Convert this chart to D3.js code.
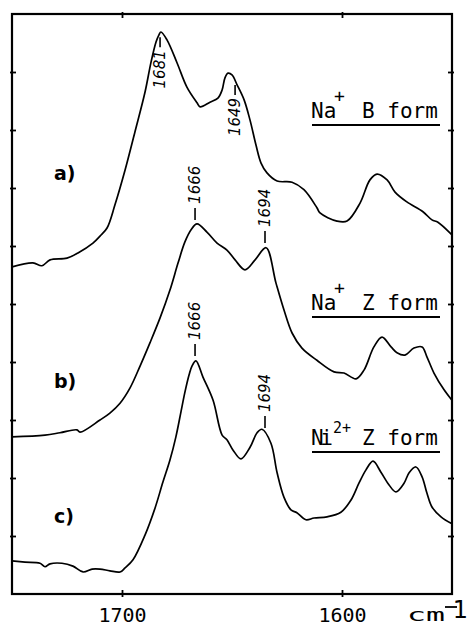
<!DOCTYPE html>
<html>
<head>
<meta charset="utf-8">
<script src="https://cdn.jsdelivr.net/npm/d3@7/dist/d3.min.js"></script>
<style>
  html, body { margin: 0; padding: 0; background: #fff; }
  svg { display: block; }
</style>
</head>
<body>
<svg id="chart" width="469" height="626"></svg>
<script>
// ---------------- DATA ----------------
// Curve a) Na+ B form : wavenumber (cm-1) and absorbance (arbitrary units)
const aWn  = [1750, 1740.5, 1736.4, 1732.7, 1725.0, 1720.0, 1713.2, 1710.0, 1706.8, 1703.2, 1698.6, 1694.1, 1689.5, 1686.8, 1684.5, 1683.2, 1682.3, 1679.5, 1675.0, 1670.5, 1665.9, 1664.5, 1660.0, 1656.4, 1654.5, 1653.2, 1651.8, 1650.0, 1647.7, 1644.5, 1641.8, 1639.1, 1636.8, 1634.1, 1629.5, 1622.7, 1617.3, 1611.4, 1610.0, 1602.3, 1597.7, 1591.8, 1587.3, 1584.1, 1579.5, 1575.9, 1570.5, 1563.2, 1559.1, 1556.4, 1550];
const aVal = [5.64, 5.71, 5.66, 5.76, 5.79, 5.88, 6.05, 6.17, 6.31, 6.71, 7.31, 7.97, 8.66, 9.17, 9.52, 9.64, 9.69, 9.55, 9.16, 8.74, 8.47, 8.40, 8.48, 8.55, 8.69, 8.90, 8.98, 8.95, 8.78, 8.52, 8.17, 7.74, 7.43, 7.26, 7.12, 7.10, 6.97, 6.66, 6.57, 6.43, 6.43, 6.74, 7.14, 7.24, 7.14, 6.93, 6.76, 6.59, 6.45, 6.41, 6.19];

// Curve b) Na+ Z form
const bWn  = [1750, 1735.0, 1728.2, 1720.5, 1719.1, 1710.0, 1705.5, 1700.9, 1696.4, 1691.8, 1687.3, 1682.7, 1678.2, 1674.5, 1671.4, 1668.6, 1665.9, 1661.4, 1656.8, 1652.3, 1648.6, 1644.1, 1639.5, 1634.5, 1630.0, 1626.4, 1622.7, 1618.2, 1611.4, 1603.6, 1599.1, 1593.6, 1590.0, 1585.5, 1581.8, 1577.7, 1575.0, 1571.4, 1567.3, 1563.6, 1561.4, 1558.2, 1553.6, 1550];
const bVal = [2.71, 2.74, 2.78, 2.83, 2.79, 3.00, 3.12, 3.29, 3.55, 3.93, 4.33, 4.76, 5.24, 5.71, 6.07, 6.28, 6.38, 6.24, 6.05, 5.93, 5.76, 5.59, 5.76, 5.97, 5.36, 4.90, 4.50, 4.24, 4.03, 3.83, 3.81, 3.71, 3.86, 4.26, 4.43, 4.26, 4.16, 4.12, 4.24, 4.26, 4.09, 3.81, 3.52, 3.34];

// Curve c) Ni2+ Z form
const cWn  = [1750, 1744.1, 1737.3, 1735.0, 1732.7, 1727.3, 1722.3, 1717.7, 1713.6, 1710.0, 1705.5, 1700.9, 1698.6, 1695.0, 1689.5, 1685.0, 1681.4, 1678.2, 1675.5, 1673.2, 1671.4, 1669.5, 1668.2, 1666.4, 1663.2, 1658.6, 1654.5, 1652.3, 1649.5, 1645.9, 1641.8, 1638.6, 1636.4, 1632.3, 1629.5, 1626.4, 1623.2, 1620.5, 1616.4, 1612.7, 1606.8, 1600.5, 1595.9, 1592.3, 1589.1, 1585.9, 1582.3, 1578.6, 1575.5, 1571.8, 1569.5, 1566.4, 1563.6, 1561.4, 1559.1, 1555.0, 1550];
const cVal = [0.57, 0.55, 0.53, 0.47, 0.52, 0.53, 0.48, 0.38, 0.43, 0.43, 0.40, 0.38, 0.45, 0.59, 1.02, 1.48, 1.93, 2.31, 2.71, 3.14, 3.48, 3.78, 3.93, 4.02, 3.74, 3.34, 2.74, 2.66, 2.48, 2.33, 2.53, 2.78, 2.84, 2.60, 2.09, 1.67, 1.45, 1.40, 1.28, 1.31, 1.33, 1.41, 1.62, 1.91, 2.14, 2.29, 2.10, 1.88, 1.76, 1.91, 2.09, 2.19, 2.02, 1.74, 1.50, 1.33, 1.21];

const curveLetters = ["a)", "b)", "c)"];
const xTickValues = [1700, 1600];
const xTickLabels = ["1700", "1600"];
const yTickValues = [1, 2, 3, 4, 5, 6, 7, 8, 9];

// peak labels: series index, text, wavenumber where label sits
const peakSeries = [0, 0, 1, 1, 2, 2];
const peakTexts  = ["1681", "1649", "1666", "1694", "1666", "1694"];
const peakWn     = [1682.7, 1648.6, 1666.8, 1635.0, 1666.8, 1635.0];
const peakSide   = ["below", "below", "above", "above", "above", "above"];

// ---------------- LAYOUT ----------------
const svg = d3.select("#chart");
const W = 469, H = 626;
const L = 12, R = 452, T = 14, B = 594;

const x = d3.scaleLinear().domain([1750, 1550]).range([L, R]);
const y = d3.scaleLinear().domain([0, 10]).range([B, T]);

svg.append("rect").attr("width", W).attr("height", H).attr("fill", "#fff");

svg.append("defs").append("clipPath").attr("id", "plotclip")
  .append("rect").attr("x", L).attr("y", T).attr("width", R - L).attr("height", B - T);

const series = [
  {wn: aWn, val: aVal},
  {wn: bWn, val: bVal},
  {wn: cWn, val: cVal}
];

const line = d3.line()
  .x(d => x(d[0]))
  .y(d => y(d[1]))
  .curve(d3.curveCatmullRom.alpha(0.5));

const plot = svg.append("g").attr("clip-path", "url(#plotclip)");
series.forEach(s => {
  const pts = s.wn.map((w, i) => [w, s.val[i]]);
  plot.append("path")
    .datum(pts)
    .attr("d", line)
    .attr("fill", "none")
    .attr("stroke", "#000")
    .attr("stroke-width", 1.7)
    .attr("stroke-linejoin", "round");
});

// ---------------- AXES ----------------
const axL = svg.append("g").attr("transform", `translate(${L},0)`)
  .call(d3.axisLeft(y).tickValues(yTickValues).tickSize(-4).tickFormat(""));
axL.select(".domain").remove();
axL.selectAll(".tick line").attr("x1", -2).attr("x2", 4).attr("stroke", "#000").attr("stroke-width", 1.8);

const axR = svg.append("g").attr("transform", `translate(${R},0)`)
  .call(d3.axisRight(y).tickValues(yTickValues).tickSize(-4).tickFormat(""));
axR.select(".domain").remove();
axR.selectAll(".tick line").attr("x1", -4).attr("x2", 2).attr("stroke", "#000").attr("stroke-width", 1.8);

const axT = svg.append("g").attr("transform", `translate(0,${T})`)
  .call(d3.axisTop(x).tickValues(xTickValues).tickSize(-4).tickFormat(""));
axT.select(".domain").remove();
axT.selectAll(".tick line").attr("y1", -2).attr("y2", 4).attr("stroke", "#000").attr("stroke-width", 1.8);

const axB = svg.append("g").attr("transform", `translate(0,${B})`)
  .call(d3.axisBottom(x).tickValues(xTickValues).tickSize(-4)
    .tickFormat((d, i) => xTickLabels[i]));
axB.select(".domain").remove();
axB.selectAll(".tick line").attr("y1", -4).attr("y2", 3).attr("stroke", "#000").attr("stroke-width", 1.8);
axB.selectAll(".tick text")
  .attr("y", 28).attr("dy", 0)
  .attr("fill", "#000")
  .style("font-family", "'DejaVu Sans Mono', monospace")
  .style("font-size", "20px");

// frame
svg.append("rect")
  .attr("x", L).attr("y", T).attr("width", R - L).attr("height", B - T)
  .attr("fill", "none").attr("stroke", "#000").attr("stroke-width", 2.2);

// unit label cm-1
svg.append("text")
  .attr("x", 407).attr("y", 621)
  .attr("textLength", 38).attr("lengthAdjust", "spacingAndGlyphs")
  .style("font-family", "'DejaVu Sans Mono', monospace")
  .style("font-size", "18px")
  .text("cm");
svg.append("line").attr("x1", 445).attr("x2", 457).attr("y1", 607).attr("y2", 607)
  .attr("stroke", "#000").attr("stroke-width", 1.8);
svg.append("text")
  .attr("x", 468).attr("y", 618)
  .attr("text-anchor", "end")
  .style("font-family", "'DejaVu Sans', sans-serif")
  .style("font-size", "24px")
  .text("1");

// ---------------- CURVE LETTERS ----------------
const letterY = [180, 388, 523];
curveLetters.forEach((t, i) => {
  svg.append("text")
    .attr("x", 54).attr("y", letterY[i])
    .style("font-family", "'DejaVu Sans', sans-serif")
    .style("font-size", "19px")
    .style("font-weight", "bold")
    .text(t);
});

// ---------------- FORM LABELS ----------------
const mono = "'DejaVu Sans Mono', monospace";
function formLabel(baseY, ion, sup, supX, form) {
  const ionText = svg.append("text").attr("x", 311).attr("y", baseY)
    .style("font-family", mono).style("font-size", "21px").text(ion);
  if (ion === "Ni") ionText.attr("textLength", 22).attr("lengthAdjust", "spacing");
  svg.append("text").attr("x", supX).attr("y", baseY - (sup.length > 1 ? 12 : 16))
    .style("font-family", mono).style("font-size", sup.length > 1 ? "15px" : "18px").text(sup);
  svg.append("text").attr("x", 362).attr("y", baseY)
    .style("font-family", mono).style("font-size", "21px").text(form);
  svg.append("line").attr("x1", 312).attr("x2", 440)
    .attr("y1", baseY + 7).attr("y2", baseY + 7)
    .attr("stroke", "#000").attr("stroke-width", 2);
}
formLabel(118, "Na", "+", 334, "B form");
formLabel(310, "Na", "+", 334, "Z form");
formLabel(445, "Ni", "2+", 333, "Z form");

// ---------------- PEAK LABELS ----------------
function valueAt(s, w) {
  const wn = s.wn, v = s.val;
  for (let i = 0; i < wn.length - 1; i++) {
    if (w <= wn[i] && w >= wn[i + 1]) {
      const t = (wn[i] - w) / (wn[i] - wn[i + 1]);
      return v[i] + t * (v[i + 1] - v[i]);
    }
  }
  return v[v.length - 1];
}

peakTexts.forEach((t, i) => {
  const s = series[peakSeries[i]];
  const px = x(peakWn[i]);
  const py = y(valueAt(s, peakWn[i]));
  let l1, l2, tp, anchor;
  if (peakSide[i] === "above") {
    l1 = py - 6; l2 = py - 18; tp = py - 22; anchor = "start";
  } else {
    l1 = py + 4; l2 = py + 14; tp = py + 17; anchor = "end";
  }
  svg.append("line").attr("x1", px).attr("x2", px).attr("y1", l1).attr("y2", l2)
    .attr("stroke", "#000").attr("stroke-width", 1.6);
  svg.append("text")
    .attr("transform", `translate(${px},${tp}) rotate(-90)`)
    .attr("text-anchor", anchor)
    .attr("dy", "0.36em")
    .style("font-family", "'DejaVu Sans', sans-serif")
    .style("font-size", "15px")
    .style("font-style", "italic")
    .text(t);
});
</script>
</body>
</html>
